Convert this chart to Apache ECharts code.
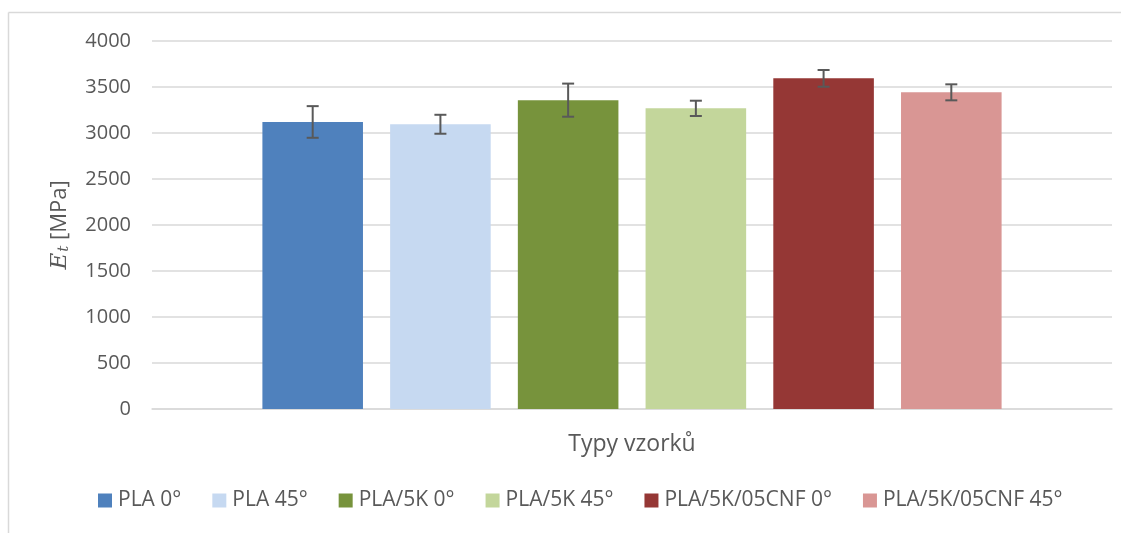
<!DOCTYPE html>
<html>
<head>
<meta charset="utf-8">
<script src="https://cdn.jsdelivr.net/npm/echarts@6/dist/echarts.min.js"></script>
<style>html,body{margin:0;padding:0;background:#fff}#c{width:1131px;height:533px}</style>
</head>
<body>
<div id="c"></div>
<script>
var seriesNames = ['PLA 0°', 'PLA 45°', 'PLA/5K 0°', 'PLA/5K 45°', 'PLA/5K/05CNF 0°', 'PLA/5K/05CNF 45°'];
var meanValues = [3120, 3095, 3357, 3268, 3594, 3442];
var sdValues = [172, 103, 180, 83, 91, 87];
var colors = ['#4f81bd', '#c6d9f1', '#77933c', '#c3d69b', '#953735', '#d99694'];
var yTicks = [0, 500, 1000, 1500, 2000, 2500, 3000, 3500, 4000];

var FONT = 'Open Sans';
var TXT = '#595959';
var CAT_GAP = 0.23, BAR_GAP = 0.27;

var chart = echarts.init(document.getElementById('c'));

var barSeries = seriesNames.map(function (n, i) {
  return {
    name: n, type: 'bar', data: [meanValues[i]],
    itemStyle: { color: colors[i] },
    barGap: (BAR_GAP * 100) + '%', barCategoryGap: (CAT_GAP * 100) + '%',
    animation: false
  };
});

var errData = meanValues.map(function (m, i) { return [0, m - sdValues[i], m + sdValues[i], i]; });

var errSeries = {
  type: 'custom', name: 'err', data: errData, z: 10, animation: false,
  encode: { x: 0, y: [1, 2] },
  renderItem: function (params, api) {
    var idx = api.value(3);
    var lo = api.coord([0, api.value(1)]);
    var hi = api.coord([0, api.value(2)]);
    var band = api.size([1, 0])[0];
    var n = seriesNames.length;
    var bw = band * (1 - CAT_GAP) / (n + (n - 1) * BAR_GAP);
    var x = lo[0] + (idx - (n - 1) / 2) * bw * (1 + BAR_GAP);
    var cap = 6;
    var st = { stroke: '#595959', lineWidth: 2 };
    return { type: 'group', children: [
      { type: 'line', shape: { x1: x, y1: lo[1], x2: x, y2: hi[1] }, style: st },
      { type: 'line', shape: { x1: x - cap, y1: lo[1], x2: x + cap, y2: lo[1] }, style: st },
      { type: 'line', shape: { x1: x - cap, y1: hi[1], x2: x + cap, y2: hi[1] }, style: st }
    ]};
  }
};

chart.setOption({
  animation: false,
  textStyle: { fontFamily: FONT },
  grid: { left: 152, right: 19, top: 41, bottom: 124, containLabel: false },
  graphic: [
    { type: 'line', shape: { x1: 8.5, y1: 12.5, x2: 1121, y2: 12.5 }, style: { stroke: '#d9d9d9', lineWidth: 1.5 } },
    { type: 'line', shape: { x1: 8.5, y1: 12.5, x2: 8.5, y2: 533 }, style: { stroke: '#d9d9d9', lineWidth: 1.5 } }
  ],
  legend: {
    data: seriesNames, bottom: 17, left: 93,
    itemWidth: 14, itemHeight: 14, itemGap: 31,
    icon: 'rect',
    textStyle: { color: TXT, fontSize: 21, fontFamily: FONT, padding: [0, 0, 0, 1] }
  },
  xAxis: {
    type: 'category', data: [''],
    name: 'Typy vzorků', nameLocation: 'middle', nameGap: 24,
    nameTextStyle: { color: TXT, fontSize: 23, fontFamily: FONT },
    axisLine: { lineStyle: { color: '#d9d9d9', width: 1.5 } },
    axisTick: { show: false }, axisLabel: { show: false }
  },
  yAxis: {
    type: 'value', min: yTicks[0], max: yTicks[yTicks.length - 1], interval: yTicks[1] - yTicks[0],
    name: '{e|E}{t|t}{u| [MPa]}', nameLocation: 'middle', nameGap: 80, nameRotate: 90,
    nameTextStyle: {
      rich: {
        e: { fontFamily: 'DejaVu Serif', fontStyle: 'italic', fontSize: 23, color: TXT },
        t: { fontFamily: 'DejaVu Serif', fontStyle: 'italic', fontSize: 15, color: TXT, verticalAlign: 'bottom', padding: [9, 0, 0, 1] },
        u: { fontFamily: FONT, fontSize: 22, color: TXT }
      }
    },
    axisLine: { show: false }, axisTick: { show: false },
    axisLabel: { color: TXT, fontSize: 20, fontFamily: FONT, margin: 21, formatter: function (v) { return String(v); } },
    splitLine: { lineStyle: { color: '#d9d9d9', width: 1.5 } }
  },
  series: barSeries.concat([errSeries])
});
</script>
</body>
</html>
